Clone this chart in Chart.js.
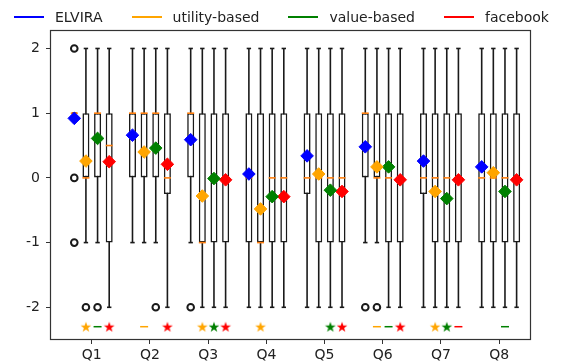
<!DOCTYPE html>
<html>
<head>
<meta charset="utf-8">
<script src="https://cdn.jsdelivr.net/npm/chart.js@4.4.0/dist/chart.umd.min.js"></script>
<style>
  html, body { margin: 0; padding: 0; background: #fff; }
  #wrap { position: relative; width: 561px; height: 362px; }
  #c { display: block; }
  #legend { position: absolute; left: 14px; top: 9px; display: flex; align-items: center;
            font: 14px "DejaVu Sans"; line-height: 16px; color: #222; white-space: nowrap; }
  #legend .it { display: flex; align-items: center; margin-right: 29px; }
  #legend .ln { width: 30px; height: 2px; margin-right: 11px; }
</style>
</head>
<body>
<div id="wrap">
  <div id="legend"></div>
  <canvas id="c" width="561" height="362"></canvas>
</div>
<script>
var categories = ['Q1', 'Q2', 'Q3', 'Q4', 'Q5', 'Q6', 'Q7', 'Q8'];
var methods = ['ELVIRA', 'utility-based', 'value-based', 'facebook'];
var colors = ['#0000ff', '#ffa500', '#008000', '#ff0000'];
var yTicks = [-2, -1, 0, 1, 2];

// one row per method, one column per question
var whiskerLow = [
  [ 1, -1, -1, -2, -2, -1, -2, -2],
  [-1, -1, -2, -2, -2, -1, -2, -2],
  [-1, -1, -2, -2, -2, -2, -2, -2],
  [-2, -2, -2, -2, -2, -2, -2, -2]
];
var boxLow = [
  [ 1,  0,  0, -1, -0.25,  0, -0.25, -1],
  [ 0,  0, -1, -1, -1,     0, -1,    -1],
  [ 0,  0, -1, -1, -1,    -1, -1,    -1],
  [-1, -0.25, -1, -1, -1, -1, -1,    -1]
];
var medians = [
  [1,   1,  1,  0, 0, 1, 0, 0],
  [0,   1, -1, -1, 0, 0, 0, 0],
  [1,   1,  0,  0, 0, 0, 0, 0],
  [0.5, 0,  0,  0, 0, 0, 0, 0]
];
var boxHigh = [
  [1, 1, 1, 1, 1, 1, 1, 1],
  [1, 1, 1, 1, 1, 1, 1, 1],
  [1, 1, 1, 1, 1, 1, 1, 1],
  [1, 1, 1, 1, 1, 1, 1, 1]
];
var whiskerHigh = [
  [1, 2, 2, 2, 2, 2, 2, 2],
  [2, 2, 2, 2, 2, 2, 2, 2],
  [2, 2, 2, 2, 2, 2, 2, 2],
  [2, 2, 2, 2, 2, 2, 2, 2]
];
var means = [
  [0.92, 0.66,  0.59,  0.06,  0.34, 0.48,  0.26,  0.17],
  [0.26, 0.40, -0.28, -0.48,  0.06, 0.17, -0.21,  0.08],
  [0.61, 0.46, -0.01, -0.29, -0.19, 0.17, -0.32, -0.21],
  [0.25, 0.21, -0.03, -0.29, -0.21, -0.03, -0.03, -0.03]
];
var outliers = [
  [[2, 0, -1], [], [-2], [], [], [-2], [], []],
  [[-2], [], [], [], [], [-2], [], []],
  [[-2], [-2], [], [], [], [], [], []],
  [[], [], [], [], [], [], [], []]
];
var significance = [
  [null, null, null, null, null, null, null, null],
  ['star', 'dash', 'star', 'star', null, 'dash', 'star', null],
  ['dash', null, 'star', null, 'star', 'dash', 'star', 'dash'],
  ['star', 'star', 'star', null, 'star', 'star', 'dash', null]
];
var sigLevel = -2.3;

// layout of the four boxes inside a question
var offsets = [-0.3, -0.1, 0.1, 0.3];
var edge = '#1a1a1a';

function starImage(color) {
  var cv = document.createElement('canvas');
  cv.width = 12; cv.height = 12;
  var g = cv.getContext('2d');
  g.fillStyle = color;
  g.beginPath();
  for (var k = 0; k < 10; k++) {
    var r = k % 2 ? 2.2 : 5.6;
    var a = -Math.PI / 2 + k * Math.PI / 5;
    g.lineTo(6 + r * Math.cos(a), 6.5 + r * Math.sin(a));
  }
  g.closePath();
  g.fill();
  return cv;
}

// html legend
var lg = document.getElementById('legend');
methods.forEach(function(name, m) {
  lg.innerHTML += '<span class="it"><span class="ln" style="background:' + colors[m] + '"></span>' + name + '</span>';
});

var datasets = [];
methods.forEach(function(name, m) {
  var pos = function(i) { return i + 1 + offsets[m]; };
  var whisk = [], box = [], caps = [], fl = [], med = [], mn = [], sig = [];
  categories.forEach(function(c, i) {
    whisk.push({x: pos(i), y: [whiskerLow[m][i], whiskerHigh[m][i]]});
    box.push({x: pos(i), y: [boxLow[m][i], boxHigh[m][i]]});
    caps.push({x: pos(i), y: whiskerLow[m][i]}, {x: pos(i), y: whiskerHigh[m][i]});
    outliers[m][i].forEach(function(v) { fl.push({x: pos(i), y: v}); });
    med.push({x: pos(i), y: medians[m][i]});
    mn.push({x: pos(i), y: means[m][i]});
    if (significance[m][i]) sig.push({x: pos(i), y: sigLevel, s: significance[m][i]});
  });
  var star = starImage(colors[m]);

  datasets.push({type: 'bar', label: name, data: whisk, backgroundColor: edge, borderWidth: 0,
    grouped: false, maxBarThickness: 1.6, order: 6});
  datasets.push({type: 'bar', label: name, data: box, backgroundColor: '#fff', borderColor: edge,
    borderWidth: 1.6, borderSkipped: false, grouped: false, maxBarThickness: 7, order: 5});
  datasets.push({type: 'scatter', label: name, data: caps, pointStyle: 'line', pointRadius: 2.2,
    borderColor: edge, pointBorderWidth: 1.6, order: 4});
  datasets.push({type: 'scatter', label: name, data: fl, pointStyle: 'circle', pointRadius: 3.3,
    backgroundColor: 'rgba(0,0,0,0)', borderColor: edge, pointBorderWidth: 2, order: 3});
  datasets.push({type: 'scatter', label: name, data: med, pointStyle: 'line', pointRadius: 3.5,
    borderColor: '#ff7f0e', pointBorderWidth: 1.6, order: 2});
  datasets.push({type: 'scatter', label: name, data: mn, pointStyle: 'rectRot', pointRadius: 6.3,
    backgroundColor: colors[m], borderColor: colors[m], pointBorderWidth: 1, order: 1});
  datasets.push({type: 'scatter', label: name, data: sig, pointRadius: 4,
    pointStyle: function(ctx) { return ctx.raw && ctx.raw.s === 'star' ? star : 'line'; },
    backgroundColor: colors[m], borderColor: colors[m], pointBorderWidth: 1.5, order: 1});
});

var framePlugin = {
  id: 'frame',
  afterDatasetsDraw: function(chart) {
    var a = chart.chartArea, c = chart.ctx;
    c.save();
    c.strokeStyle = '#333';
    c.lineWidth = 1.2;
    c.strokeRect(a.left - 0.5, a.top - 0.5, a.right - a.left + 1, a.bottom - a.top + 1);
    c.restore();
  }
};

var tickFont = {family: 'DejaVu Sans', size: 14};

new Chart(document.getElementById('c'), {
  type: 'scatter',
  data: {datasets: datasets},
  plugins: [framePlugin],
  options: {
    responsive: false,
    animation: false,
    events: [],
    layout: {padding: {left: 0, top: 31, right: 31, bottom: 0}},
    plugins: {legend: {display: false}, tooltip: {enabled: false}},
    scales: {
      x: {
        type: 'linear', min: 0.30, max: 8.53, offset: false,
        grid: {display: true, drawOnChartArea: false, drawTicks: true, tickLength: 5, color: '#333', offset: false},
        border: {display: false},
        afterBuildTicks: function(s) { s.ticks = categories.map(function(c, i) { return {value: i + 1}; }); },
        ticks: {callback: function(v) { return categories[v - 1]; }, color: '#222', font: tickFont,
                padding: 3, maxRotation: 0, autoSkip: false},
        afterFit: function(s) { s.height = 23; }
      },
      y: {
        type: 'linear', min: -2.49, max: 2.27,
        grid: {display: true, drawOnChartArea: false, drawTicks: true, tickLength: 5, color: '#333'},
        border: {display: false},
        afterBuildTicks: function(s) { s.ticks = yTicks.map(function(v) { return {value: v}; }); },
        ticks: {color: '#222', font: tickFont, padding: 6},
        afterFit: function(s) { s.width = 51; }
      }
    }
  }
});
</script>
</body>
</html>
